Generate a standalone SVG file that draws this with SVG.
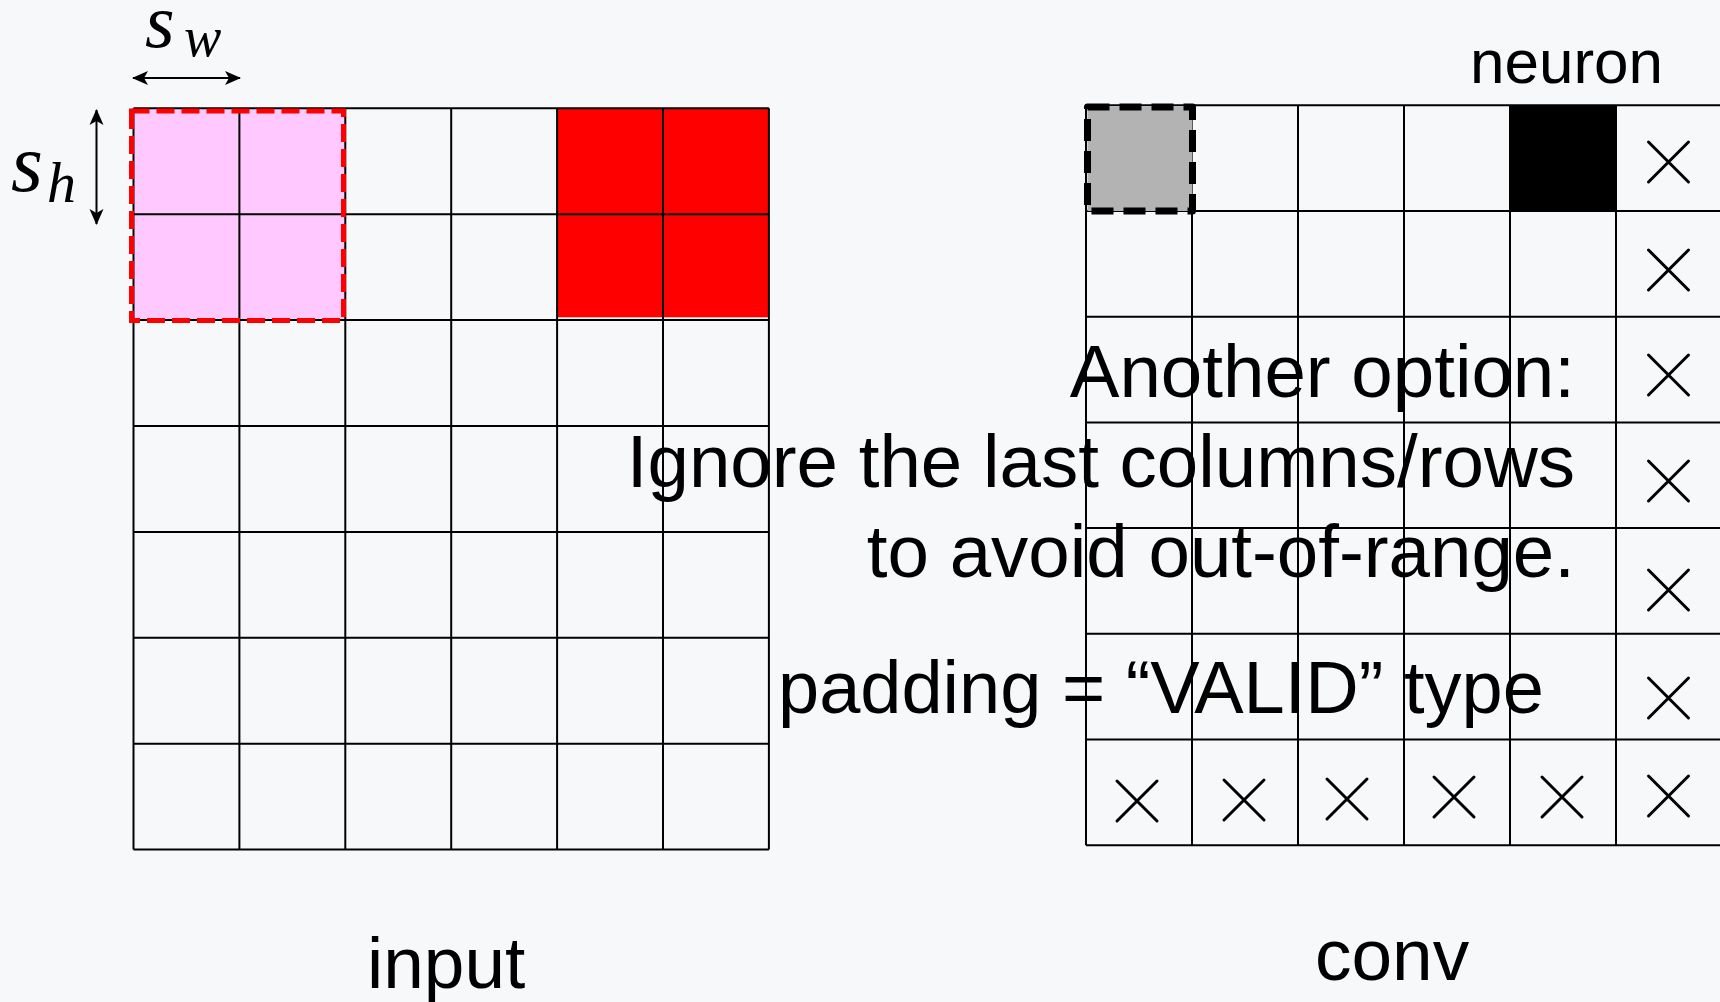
<svg xmlns="http://www.w3.org/2000/svg" xmlns:xlink="http://www.w3.org/1999/xlink" width="1720" height="1002" viewBox="0 0 1720 1002">
<style>
.grid{stroke:#000;stroke-width:2;fill:none}
.t{font-family:"Liberation Sans",Arial,sans-serif;fill:#000}
.m{font-family:"Liberation Serif","Times New Roman",serif;font-style:italic;fill:#000}
.x{stroke:#000;stroke-width:3;stroke-linecap:round;fill:none}
.arrow{stroke:#000;stroke-width:2;fill:none}
</style>
<defs>
<marker id="ah" viewBox="0 0 16 16" refX="15" refY="8" markerWidth="16" markerHeight="16" markerUnits="userSpaceOnUse" orient="auto-start-reverse">
<path d="M0,1 L16,8 L0,15 L4,8 Z" fill="#000"/>
</marker>
<path id="xm" class="x" d="M-20,-20 L20,20 M20,-20 L-20,20"/>
</defs>
<rect width="1720" height="1002" fill="#f7f8fa"/>

<g id="input-grid">
<rect x="557" y="108.3" width="212" height="209" fill="#ff0000"/>
<rect x="133.5" y="108.3" width="211.8" height="211.8" fill="#ffc8ff"/>
<path class="grid" d="M133.5,108.3 H768.9 M133.5,214.2 H768.9 M133.5,320.1 H768.9 M133.5,426 H768.9 M133.5,531.9 H768.9 M133.5,637.8 H768.9 M133.5,743.7 H768.9 M133.5,849.6 H768.9 M133.5,108.3 V849.6 M239.4,108.3 V849.6 M345.3,108.3 V849.6 M451.2,108.3 V849.6 M557.1,108.3 V849.6 M663,108.3 V849.6 M768.9,108.3 V849.6"/>
<rect x="131.5" y="111" width="212" height="209.5" fill="none" stroke="#ff0000" stroke-width="5" stroke-dasharray="18 7"/>
</g>

<g id="input-label">
<text class="t" x="367" y="988" font-size="73">input</text>
</g>

<g id="sw-label">
<text class="m" x="145" y="47" font-size="76">s</text>
<text class="m" x="184" y="56" font-size="56">w</text>
</g>
<g id="sh-label">
<text class="m" x="11" y="191" font-size="82">s</text>
<text class="m" x="47" y="202" font-size="58">h</text>
</g>

<g id="overlay-text">
<text class="t" x="1575" y="397" font-size="74.5" text-anchor="end">Another option:</text>
<text class="t" x="1575" y="487" font-size="74.5" text-anchor="end">Ignore the last columns/rows</text>
<text class="t" x="1575" y="577" font-size="74.5" text-anchor="end">to avoid out-of-range.</text>
<text class="t" x="778" y="713" font-size="74">padding = “VALID” type</text>
</g>

<g id="conv-grid">
<rect x="1510" y="105.3" width="106" height="105.7" fill="#000"/>
<path class="grid" d="M1086,105.3 H1722 M1086,211 H1722 M1086,316.7 H1722 M1086,422.4 H1722 M1086,528.1 H1722 M1086,633.8 H1722 M1086,739.5 H1722 M1086,845.2 H1722 M1086,105.3 V845.2 M1192,105.3 V845.2 M1298,105.3 V845.2 M1404,105.3 V845.2 M1510,105.3 V845.2 M1616,105.3 V845.2"/>
<rect x="1087.5" y="107" width="105" height="104" fill="#b3b3b3" stroke="#000" stroke-width="7" stroke-dasharray="22 10" stroke-linejoin="round"/>
<use href="#xm" x="1668.5" y="162"/>
<use href="#xm" x="1668.5" y="270"/>
<use href="#xm" x="1668.5" y="375"/>
<use href="#xm" x="1668.5" y="481"/>
<use href="#xm" x="1668.5" y="590"/>
<use href="#xm" x="1668.5" y="698"/>
<use href="#xm" x="1668.5" y="796"/>
<use href="#xm" x="1137" y="801"/>
<use href="#xm" x="1244" y="800"/>
<use href="#xm" x="1347" y="799"/>
<use href="#xm" x="1454" y="797"/>
<use href="#xm" x="1562" y="797"/>
</g>

<g id="neuron-label">
<text class="t" x="1470" y="83" font-size="62">neuron</text>
</g>
<g id="conv-label">
<text class="t" x="1315" y="980" font-size="73">conv</text>
</g>

<g id="connectors">
<line class="arrow" x1="133" y1="78" x2="240" y2="78" marker-start="url(#ah)" marker-end="url(#ah)"/>
<line class="arrow" x1="96.5" y1="110" x2="96.5" y2="224" marker-start="url(#ah)" marker-end="url(#ah)"/>
</g>
</svg>
